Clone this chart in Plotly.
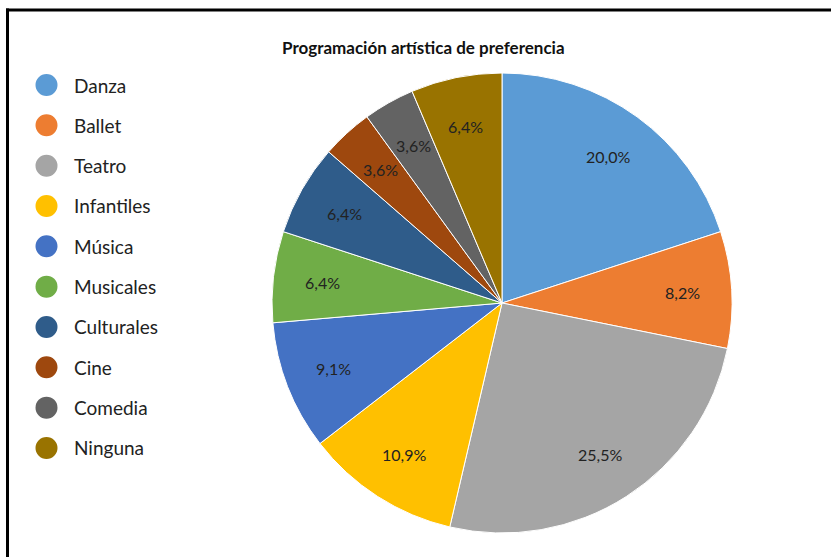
import math
import plotly.graph_objects as go

# Preference shares (%) by artistic programme
categories = ["Danza", "Ballet", "Teatro", "Infantiles", "Música",
              "Musicales", "Culturales", "Cine", "Comedia", "Ninguna"]
shares = [20.0, 8.2, 25.5, 10.9, 9.1, 6.4, 6.4, 3.6, 3.6, 6.4]
colors = ["#5B9BD5", "#ED7D31", "#A5A5A5", "#FFC000", "#4472C4",
          "#70AD47", "#2F5C8A", "#9E480E", "#636363", "#997300"]
title_text = "Programación artística de preferencia"

W, H = 831, 557
CX, CY, R = 502, 303, 230          # pie centre / radius in pixels
LABEL_R = 0.785 * R
FONT = "Lato, 'Open Sans', sans-serif"


def px(x):
    return x / W


def py(y):
    return 1 - y / H


fig = go.Figure()
fig.add_trace(go.Pie(
    labels=categories,
    values=shares,
    sort=False,
    direction="clockwise",
    rotation=0,
    marker=dict(colors=colors, line=dict(color="white", width=1)),
    textinfo="none",
    hovertemplate="%{label}: %{value:.1f}%<extra></extra>",
    showlegend=False,
    domain=dict(x=[px(CX - R), px(CX + R)], y=[py(CY + R), py(CY - R)]),
))

annotations = []
shapes = []

# Value labels placed at the middle angle of each slice
total = sum(shares)
cum = 0.0
for v in shares:
    mid = (cum + v / 2) / total * 2 * math.pi
    cum += v
    lx = CX + LABEL_R * math.sin(mid)
    ly = CY - LABEL_R * math.cos(mid)
    annotations.append(dict(
        x=px(lx), y=py(ly), xref="paper", yref="paper",
        text=f"{v:.1f}%".replace(".", ","), showarrow=False,
        xanchor="center", yanchor="middle",
        font=dict(family=FONT, size=16, color="#222222"),
    ))

# Legend with round swatches
LEG_X, LEG_Y0, LEG_DY, DOT_R = 46.5, 85, 40.33, 11
for i, (name, col) in enumerate(zip(categories, colors)):
    yc = LEG_Y0 + i * LEG_DY
    shapes.append(dict(
        type="circle", xref="paper", yref="paper",
        x0=px(LEG_X - DOT_R), x1=px(LEG_X + DOT_R),
        y0=py(yc + DOT_R), y1=py(yc - DOT_R),
        fillcolor=col, line=dict(width=0),
    ))
    annotations.append(dict(
        x=px(72), y=py(yc), xref="paper", yref="paper",
        text=name, showarrow=False, xanchor="left", yanchor="middle",
        font=dict(family=FONT, size=19, color="#222222"),
    ))

# Chart title
annotations.append(dict(
    x=px(423), y=py(47), xref="paper", yref="paper",
    text=f"<b>{title_text}</b>", showarrow=False,
    xanchor="center", yanchor="middle",
    font=dict(family=FONT, size=17, color="#111111"),
))

# Outer frame: left and top edges (the rest runs off the page)
shapes.append(dict(
    type="line", xref="paper", yref="paper",
    x0=px(7.5), x1=px(7.5), y0=0, y1=py(8.5),
    line=dict(color="black", width=3),
))
shapes.append(dict(
    type="line", xref="paper", yref="paper",
    x0=px(6), x1=1, y0=py(10), y1=py(10),
    line=dict(color="black", width=3),
))

fig.update_layout(
    width=W, height=H,
    margin=dict(l=0, r=0, t=0, b=0),
    paper_bgcolor="white",
    plot_bgcolor="white",
    annotations=annotations,
    shapes=shapes,
)

fig.write_html("out.html", config={"responsive": False})
